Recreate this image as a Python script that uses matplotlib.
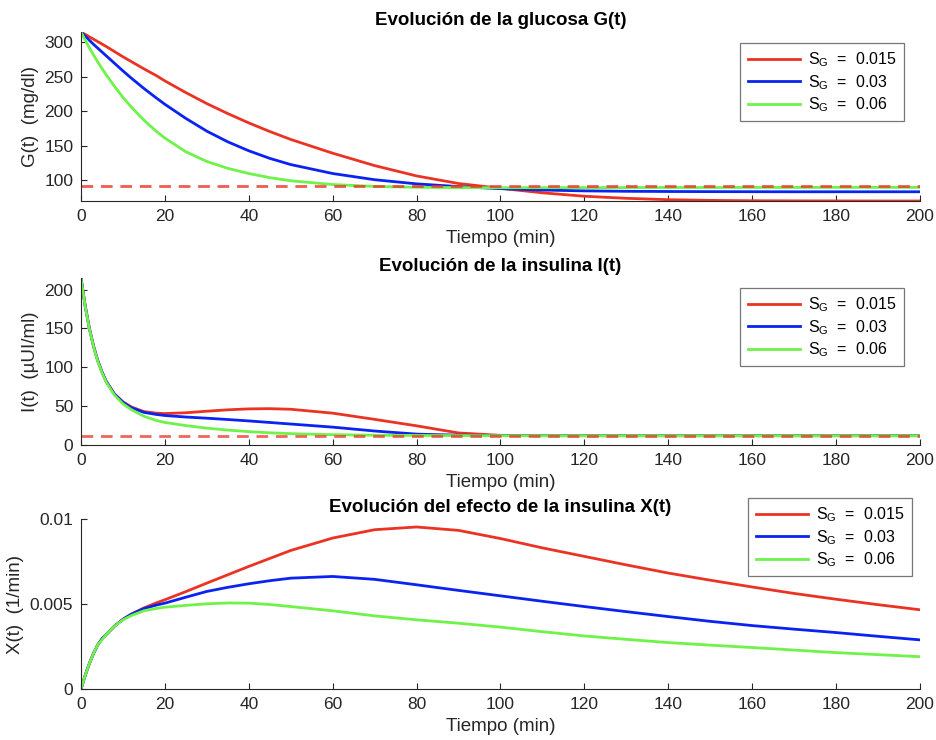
import matplotlib.pyplot as plt

plt.rcParams['font.family'] = ['Liberation Sans', 'DejaVu Sans']
plt.rcParams['mathtext.fontset'] = 'custom'
plt.rcParams['mathtext.rm'] = 'Liberation Sans'

# tiempo (min) comun a todas las curvas
t = [0, 1, 2, 3, 4, 5, 6, 8, 10, 12, 15, 18, 20, 25, 30, 35, 40, 45, 50,
     60, 70, 80, 90, 100, 110, 120, 130, 140, 150, 160, 170, 180, 190, 200]

etiquetas = ['0.015', '0.03', '0.06']

# glucosa G(t) (mg/dl)
G_015 = [315, 311.5, 308, 304.5, 301, 297.5, 294, 286.5, 279, 272, 261.5, 251.5, 244, 227,
         211, 196.5, 183, 170.5, 159, 139, 121, 106, 95, 88, 81.5, 76.5, 73.5, 71.5, 70.5,
         70, 69.8, 69.7, 69.6, 69.6]
G_03 = [315, 309, 303, 297, 291.5, 286, 280.5, 269.5, 258.5, 248, 233, 219, 210, 189.5,
        171, 155.5, 142.5, 131.5, 122.5, 109.5, 100.5, 94.5, 90.5, 87.5, 85.5, 84.3, 83.7,
        83.4, 83.2, 83.1, 83, 83, 83, 83]
G_06 = [315, 303, 292, 281.5, 271.5, 262, 253, 236, 220, 206, 187, 170.5, 161, 141,
        127, 117, 109.5, 103.5, 99, 93.5, 90.8, 89.5, 89, 88.9, 88.9, 89, 89.1, 89.2, 89.2,
        89.3, 89.3, 89.4, 89.4, 89.4]
G_basal = 92

# insulina I(t) (uUI/ml)
I_015 = [215, 179, 150, 127, 108.5, 94, 82, 65.5, 55.5, 49, 43, 41, 40.5, 41.5,
         43.5, 45.3, 46.5, 46.8, 46, 41, 33, 24.7, 15.5, 12.4, 12, 12, 12, 12, 12,
         12, 12, 12, 12, 12]
I_03 = [215, 179, 150, 127, 108.5, 94, 82, 65.3, 55, 48, 42, 39.3, 38, 36,
        34.5, 32.8, 31, 29, 27, 23, 18, 14, 12.6, 12.2, 12.05, 12, 12, 12, 12,
        12, 12, 12, 12, 12]
I_06 = [215, 178.5, 149.5, 126.5, 107.5, 93, 81, 64, 53, 45.5, 37, 31.5, 29, 25,
        21.7, 19.2, 17.2, 15.7, 14.6, 13.3, 12.6, 12.3, 12.1, 12, 12, 12, 12, 12, 12,
        12, 12, 12, 12, 12]
I_basal = 12

# efecto de la insulina X(t) (1/min)
X_015 = [0, 0.0008, 0.0015, 0.0021, 0.0026, 0.00295, 0.0032, 0.0037, 0.0041, 0.0044,
         0.00477, 0.00507, 0.00525, 0.00573, 0.00623, 0.00672, 0.00721, 0.00768, 0.00815,
         0.00888, 0.00937, 0.00953, 0.00933, 0.00885, 0.0083, 0.0078, 0.0073, 0.00682,
         0.0064, 0.006, 0.00562, 0.00528, 0.00496, 0.00466]
X_03 = [0, 0.0008, 0.0015, 0.0021, 0.0026, 0.00295, 0.0032, 0.0037, 0.0041, 0.0044,
        0.00473, 0.00494, 0.00505, 0.0054, 0.00574, 0.00598, 0.00619, 0.00637, 0.00652,
        0.00662, 0.00645, 0.00613, 0.0058, 0.00548, 0.00516, 0.00485, 0.00455, 0.00426,
        0.00398, 0.00373, 0.00352, 0.00332, 0.0031, 0.00289]
X_06 = [0, 0.0008, 0.0015, 0.0021, 0.0026, 0.0029, 0.0032, 0.0037, 0.00407, 0.00432,
        0.0046, 0.00474, 0.00481, 0.00492, 0.00501, 0.00506, 0.00505, 0.00497, 0.00485,
        0.0046, 0.0043, 0.00407, 0.00387, 0.00364, 0.00337, 0.00312, 0.00292, 0.00273,
        0.00258, 0.00244, 0.00229, 0.00214, 0.00202, 0.0019]

colores = ['#EB3324', '#0A23F0', '#6FF24A']
gris = '#262626'


def config_ejes(ax, titulo, ylabel, yticks, yticklabels, ylim):
    ax.set_xlim(0, 200)
    ax.set_ylim(*ylim)
    ax.set_xticks(range(0, 201, 20))
    ax.set_yticks(yticks)
    ax.set_yticklabels(yticklabels)
    ax.spines['top'].set_visible(False)
    ax.spines['right'].set_visible(False)
    for s in ['left', 'bottom']:
        ax.spines[s].set_color(gris)
        ax.spines[s].set_linewidth(0.8)
    ax.tick_params(direction='in', length=4, width=0.8, colors=gris, labelsize=12.5, pad=5.5)
    ax.set_title(titulo, fontsize=13.5, fontweight='bold', pad=5)
    ax.set_xlabel('Tiempo (min)', fontsize=13.5, color=gris, labelpad=4.5)
    ax.set_ylabel(ylabel, fontsize=13.5, color=gris, labelpad=4)


def leyenda(ax, fig, x, y):
    ley = ax.legend(loc='upper right', bbox_to_anchor=(x / 937, 1 - y / 740),
                    bbox_transform=fig.transFigure, borderaxespad=0, fancybox=False,
                    fontsize=11.5, handlelength=3.3, labelspacing=0.25, borderpad=0.45,
                    handletextpad=0.5)
    ley.get_frame().set_edgecolor('#555555')
    ley.get_frame().set_linewidth(0.9)


fig = plt.figure(figsize=(9.37, 7.4), dpi=100)
ax1 = fig.add_axes([81 / 937, 1 - 201 / 740, 839 / 937, 169 / 740])
ax2 = fig.add_axes([81 / 937, 1 - 445 / 740, 839 / 937, 167 / 740])
ax3 = fig.add_axes([81 / 937, 1 - 689 / 740, 839 / 937, 170 / 740])

dash = (0, (4.2, 2.8))

for serie, c, e in zip([G_015, G_03, G_06], colores, etiquetas):
    ax1.plot(t, serie, color=c, lw=2, label=r'$\mathregular{S_G}$  =  ' + e)
ax1.plot([0, 200], [G_basal, G_basal], color=colores[0], lw=2, ls=dash, alpha=0.8)
config_ejes(ax1, 'Evolución de la glucosa G(t)', 'G(t)  (mg/dl)',
            [100, 150, 200, 250, 300], ['100', '150', '200', '250', '300'], (69.6, 315))
leyenda(ax1, fig, 904, 43)

for serie, c, e in zip([I_015, I_03, I_06], colores, etiquetas):
    ax2.plot(t, serie, color=c, lw=2, label=r'$\mathregular{S_G}$  =  ' + e)
ax2.plot([0, 200], [I_basal, I_basal], color=colores[0], lw=2, ls=dash, alpha=0.75)
config_ejes(ax2, 'Evolución de la insulina I(t)', 'I(t)  (µUI/ml)',
            [0, 50, 100, 150, 200], ['0', '50', '100', '150', '200'], (0, 215))
leyenda(ax2, fig, 904, 288)

for serie, c, e in zip([X_015, X_03, X_06], colores, etiquetas):
    ax3.plot(t, serie, color=c, lw=2, label=r'$\mathregular{S_G}$  =  ' + e)
config_ejes(ax3, 'Evolución del efecto de la insulina X(t)', 'X(t)  (1/min)',
            [0, 0.005, 0.01], ['0', '0.005', '0.01'], (0, 0.01))
leyenda(ax3, fig, 912, 498)

fig.savefig('out.png', dpi=100)
